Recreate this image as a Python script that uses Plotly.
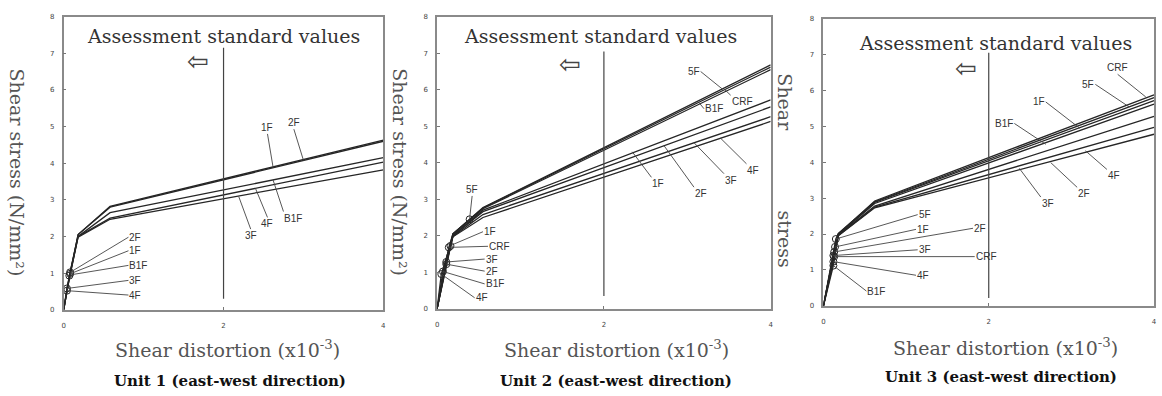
import plotly.graph_objects as go

W, H = 1162, 396

# ---------------- data ----------------
# Unit 1
u1_names = ["2F", "1F", "B1F", "3F", "4F"]
u1_crack_x = [0.08, 0.08, 0.07, 0.04, 0.04]
u1_crack_y = [1.02, 0.98, 0.93, 0.58, 0.52]
u1_knee2_x = [0.18, 0.18, 0.18, 0.18, 0.18]
u1_knee2_y = [2.05, 2.05, 2.00, 1.98, 2.00]
u1_knee3_x = [0.58, 0.58, 0.58, 0.58, 0.58]
u1_knee3_y = [2.82, 2.80, 2.65, 2.47, 2.50]
u1_end_x = [4, 4, 4, 4, 4]
u1_end_y = [4.63, 4.60, 4.15, 3.82, 4.03]

# Unit 2
u2_names = ["5F", "CRF", "B1F", "1F", "2F", "3F", "4F"]
u2_crack_x = [0.39, 0.14, 0.07, 0.16, 0.11, 0.11, 0.05]
u2_crack_y = [2.45, 1.68, 1.02, 1.72, 1.22, 1.28, 0.95]
u2_knee2_x = [0.19, 0.19, 0.19, 0.19, 0.19, 0.19, 0.19]
u2_knee2_y = [2.05, 2.05, 2.05, 2.00, 2.00, 1.98, 1.97]
u2_knee3_x = [0.55, 0.55, 0.55, 0.55, 0.55, 0.55, 0.55]
u2_knee3_y = [2.77, 2.76, 2.74, 2.70, 2.66, 2.58, 2.50]
u2_end_x = [4, 4, 4, 4, 4, 4, 4]
u2_end_y = [6.68, 6.62, 6.55, 5.72, 5.53, 5.26, 5.13]

# Unit 3
u3_names = ["CRF", "5F", "1F", "B1F", "4F", "2F", "3F"]
u3_crack_x = [0.13, 0.15, 0.14, 0.12, 0.12, 0.13, 0.12]
u3_crack_y = [1.37, 1.86, 1.64, 1.12, 1.23, 1.50, 1.40]
u3_knee2_x = [0.18, 0.18, 0.18, 0.18, 0.18, 0.18, 0.18]
u3_knee2_y = [2.00, 2.02, 2.00, 1.98, 1.97, 1.96, 1.95]
u3_knee3_x = [0.62, 0.62, 0.62, 0.62, 0.62, 0.62, 0.62]
u3_knee3_y = [2.92, 2.90, 2.88, 2.85, 2.78, 2.75, 2.73]
u3_end_x = [4, 4, 4, 4, 4, 4, 4]
u3_end_y = [5.88, 5.80, 5.72, 5.62, 5.28, 4.97, 4.78]

standard_x = 2
x_ticks = [0, 2, 4]
y_ticks = [0, 1, 2, 3, 4, 5, 6, 7, 8]

unit_titles = ["Unit 1 (east-west direction)", "Unit 2 (east-west direction)",
               "Unit 3 (east-west direction)"]
x_title = "Shear distortion (x10<sup>-3</sup>)"
y_title = "Shear stress (N/mm²)"
std_text = "Assessment standard values"

# label leaders: (text, label_x, label_y, target_x, target_y, xanchor, yanchor)
u1_labels = [
    ("2F", 0.81, 1.98, 0.08, 1.02, "left", "middle"),
    ("1F", 0.81, 1.61, 0.08, 0.98, "left", "middle"),
    ("B1F", 0.81, 1.21, 0.08, 0.95, "left", "middle"),
    ("3F", 0.81, 0.80, 0.04, 0.58, "left", "middle"),
    ("4F", 0.81, 0.40, 0.04, 0.52, "left", "middle"),
    ("1F", 2.55, 4.80, 2.62, 3.89, "center", "bottom"),
    ("2F", 2.88, 4.93, 3.00, 4.08, "center", "bottom"),
    ("B1F", 2.75, 2.68, 2.62, 3.54, "left", "top"),
    ("4F", 2.55, 2.52, 2.40, 3.31, "center", "top"),
    ("3F", 2.34, 2.20, 2.19, 3.09, "center", "top"),
]
u2_labels = [
    ("5F", 0.42, 3.09, 0.39, 2.47, "center", "bottom"),
    ("1F", 0.55, 2.11, 0.17, 1.74, "left", "middle"),
    ("CRF", 0.61, 1.71, 0.14, 1.68, "left", "middle"),
    ("3F", 0.57, 1.36, 0.11, 1.28, "left", "middle"),
    ("2F", 0.57, 1.03, 0.11, 1.22, "left", "middle"),
    ("B1F", 0.57, 0.68, 0.07, 1.02, "left", "middle"),
    ("4F", 0.45, 0.30, 0.05, 0.95, "left", "middle"),
    ("5F", 3.16, 6.50, 3.42, 6.02, "right", "middle"),
    ("CRF", 3.52, 5.85, 3.45, 6.00, "left", "top"),
    ("B1F", 3.20, 5.48, 3.14, 5.65, "left", "middle"),
    ("1F", 2.57, 3.60, 2.34, 4.30, "left", "top"),
    ("2F", 3.08, 3.33, 2.72, 4.47, "left", "top"),
    ("3F", 3.44, 3.70, 3.08, 4.55, "left", "top"),
    ("4F", 3.71, 3.97, 3.40, 4.67, "left", "top"),
]
u3_labels = [
    ("5F", 1.14, 2.54, 0.15, 1.86, "left", "middle"),
    ("1F", 1.12, 2.13, 0.14, 1.64, "left", "middle"),
    ("2F", 1.81, 2.16, 0.13, 1.50, "left", "middle"),
    ("3F", 1.14, 1.56, 0.12, 1.40, "left", "middle"),
    ("CRF", 1.83, 1.37, 0.13, 1.37, "left", "middle"),
    ("4F", 1.12, 0.85, 0.12, 1.23, "left", "middle"),
    ("B1F", 0.52, 0.41, 0.12, 1.12, "left", "middle"),
    ("CRF", 3.56, 6.45, 3.90, 5.82, "center", "bottom"),
    ("5F", 3.29, 6.17, 3.70, 5.54, "right", "middle"),
    ("1F", 2.69, 5.68, 3.10, 4.95, "right", "middle"),
    ("B1F", 2.31, 5.08, 2.69, 4.50, "right", "middle"),
    ("4F", 3.43, 3.80, 3.17, 4.32, "left", "top"),
    ("2F", 3.07, 3.30, 2.75, 3.99, "left", "top"),
    ("3F", 2.63, 3.03, 2.37, 3.83, "left", "top"),
]

# ---------------- layout geometry (pixels) ----------------
panels = [
    dict(left=62, right=383, top=13, bottom=312, ax="x", ay="y",
         names=u1_names, cx=u1_crack_x, cy=u1_crack_y, k2x=u1_knee2_x, k2y=u1_knee2_y,
         k3x=u1_knee3_x, k3y=u1_knee3_y, ex=u1_end_x, ey=u1_end_y, labels=u1_labels,
         vline=(0.3, 7.15), std=(2.0, 7.48), arrow=(1.68, 6.8),
         xt_x=226, xt_y=352, ut_x=229, ut_y=385, yt_x=16, yt_y=172),
    dict(left=437, right=772, top=13, bottom=311, ax="x2", ay="y2",
         names=u2_names, cx=u2_crack_x, cy=u2_crack_y, k2x=u2_knee2_x, k2y=u2_knee2_y,
         k3x=u2_knee3_x, k3y=u2_knee3_y, ex=u2_end_x, ey=u2_end_y, labels=u2_labels,
         vline=(0.35, 7.05), std=(1.96, 7.46), arrow=(1.59, 6.7),
         xt_x=617, xt_y=352, ut_x=617, ut_y=385, yt_x=400, yt_y=172),
    dict(left=825, right=1157, top=15, bottom=308, ax="x3", ay="y3",
         names=u3_names, cx=u3_crack_x, cy=u3_crack_y, k2x=u3_knee2_x, k2y=u3_knee2_y,
         k3x=u3_knee3_x, k3y=u3_knee3_y, ex=u3_end_x, ey=u3_end_y, labels=u3_labels,
         vline=(0.22, 7.05), std=(2.08, 7.32), arrow=(1.72, 6.62),
         xt_x=1008, xt_y=350, ut_x=1003, ut_y=381, yt_x=786, yt_y=None),
]

LINE = "#262626"
SERIF = "DejaVu Serif, serif"
fig = go.Figure()
annotations = []
layout = {}


def paper_text(x, y, text, size, color, family=SERIF, angle=0):
    return dict(x=x / W, y=1 - y / H, xref="paper", yref="paper", text=text,
                showarrow=False, textangle=angle, xanchor="center", yanchor="middle",
                font=dict(family=family, size=size, color=color))


for i, p in enumerate(panels):
    xa, ya = p["ax"], p["ay"]
    for j, name in enumerate(p["names"]):
        pts = sorted([(0, 0), (p["cx"][j], p["cy"][j]), (p["k2x"][j], p["k2y"][j]),
                      (p["k3x"][j], p["k3y"][j]), (p["ex"][j], p["ey"][j])])
        fig.add_trace(go.Scatter(x=[q[0] for q in pts], y=[q[1] for q in pts],
                                 mode="lines", name=name, xaxis=xa, yaxis=ya,
                                 line=dict(color=LINE, width=1.3), showlegend=False))
    fig.add_trace(go.Scatter(x=p["cx"], y=p["cy"], mode="markers", xaxis=xa, yaxis=ya,
                             marker=dict(symbol="circle-open", size=7,
                                         line=dict(color=LINE, width=1), color=LINE),
                             showlegend=False))
    fig.add_trace(go.Scatter(x=[standard_x, standard_x], y=list(p["vline"]), mode="lines",
                             xaxis=xa, yaxis=ya, line=dict(color="#444", width=1.2),
                             showlegend=False))
    sfx = "" if i == 0 else str(i + 1)
    layout["xaxis" + sfx] = dict(
        domain=[p["left"] / W, p["right"] / W], range=[0, 4], anchor=ya,
        tickvals=x_ticks, ticks="inside", ticklen=3, tickcolor="#777",
        showline=True, mirror=True, linecolor="#8a8a8a", linewidth=1.5,
        showgrid=False, zeroline=False, ticklabelstandoff=8,
        tickfont=dict(size=7, color="#444", family="DejaVu Sans"))
    layout["yaxis" + sfx] = dict(
        domain=[1 - p["bottom"] / H, 1 - p["top"] / H], range=[0, 8], anchor=xa,
        tickvals=y_ticks, ticks="inside", ticklen=3, tickcolor="#777",
        showline=True, mirror=True, linecolor="#8a8a8a", linewidth=1.5,
        showgrid=False, zeroline=False, ticklabelstandoff=6,
        tickfont=dict(size=7, color="#444", family="DejaVu Sans"))

    annotations.append(dict(x=p["std"][0], y=p["std"][1], xref=xa, yref=ya,
                            text=std_text, showarrow=False,
                            xanchor="center", yanchor="middle",
                            font=dict(family=SERIF, size=19, color="#333")))
    annotations.append(dict(x=p["arrow"][0], y=p["arrow"][1], xref=xa, yref=ya,
                            text="⇦", showarrow=False, xanchor="center", yanchor="middle",
                            font=dict(family="DejaVu Sans", size=26, color="#444")))
    for (t, lx, ly, tx, ty, xan, yan) in p["labels"]:
        annotations.append(dict(x=tx, y=ty, xref=xa, yref=ya, ax=lx, ay=ly,
                                axref=xa, ayref=ya, text=t, showarrow=True,
                                arrowhead=0, arrowwidth=0.9, arrowcolor="#444",
                                xanchor=xan, yanchor=yan, borderpad=0,
                                font=dict(family="Liberation Sans", size=10, color="#333")))
    annotations.append(paper_text(p["xt_x"], p["xt_y"], x_title, 19, "#555"))
    annotations.append(paper_text(p["ut_x"], p["ut_y"], "<b>" + unit_titles[i] + "</b>",
                                  15, "#111"))
    if p["yt_y"] is not None:
        annotations.append(paper_text(p["yt_x"], p["yt_y"], y_title, 19, "#555", angle=90))
    else:
        annotations.append(paper_text(p["yt_x"], 100, "Shear", 19, "#555", angle=90))
        annotations.append(paper_text(p["yt_x"], 240, "stress", 19, "#555", angle=90))

fig.update_layout(width=W, height=H, margin=dict(l=0, r=0, t=0, b=0),
                  paper_bgcolor="white", plot_bgcolor="white",
                  annotations=annotations, **layout)
fig.write_html("out.html")
